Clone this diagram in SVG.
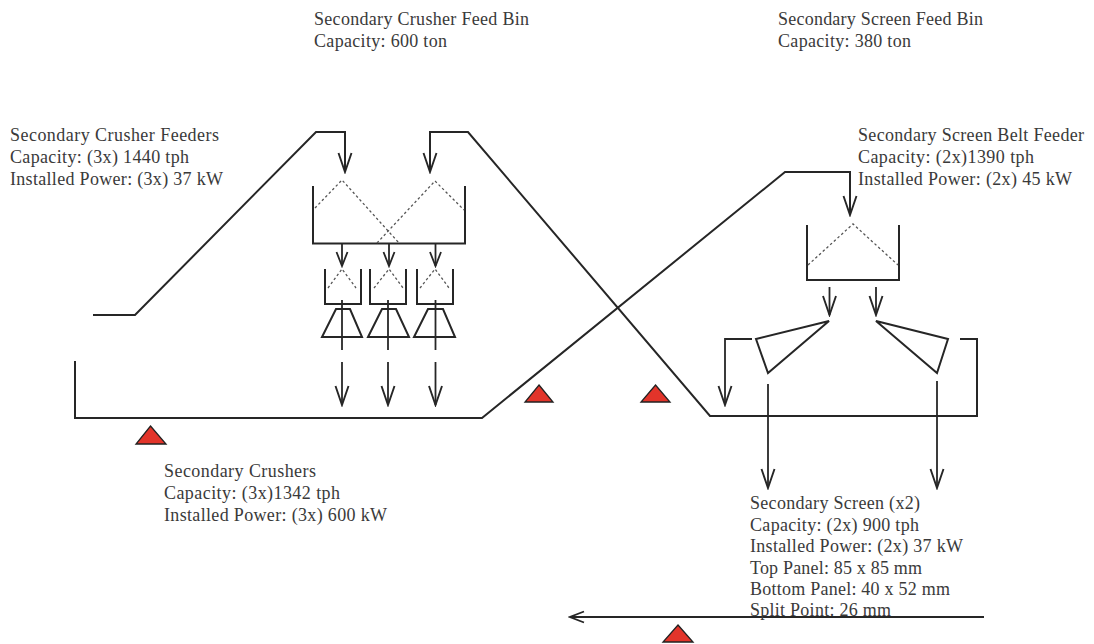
<svg xmlns="http://www.w3.org/2000/svg" width="1094" height="644" viewBox="0 0 1094 644">
<style>
text{font-family:"Liberation Serif",serif;font-size:18px;fill:#3a3a3a}
.l{fill:none;stroke:#262626;stroke-width:2;stroke-linejoin:miter}
.a{fill:none;stroke:#262626;stroke-width:1.8}
.d{fill:none;stroke:#555;stroke-width:1.3;stroke-dasharray:2.5 2.5}
.t{fill:#e2342a;stroke:#222;stroke-width:1.3}
</style>
<defs>
<marker id="ah" viewBox="-20 -8 22 16" refX="0" refY="0" markerWidth="22" markerHeight="16" markerUnits="userSpaceOnUse" orient="auto">
<path d="M-19,-6.500 L0,0 L-19,6.500" fill="none" stroke="#262626" stroke-width="1.9"/>
</marker>
<marker id="as" viewBox="-20 -8 22 16" refX="0" refY="0" markerWidth="22" markerHeight="16" markerUnits="userSpaceOnUse" orient="auto">
<path d="M-14,-5.500 L0,0 L-14,5.500" fill="none" stroke="#262626" stroke-width="1.8"/>
</marker>
</defs>
<rect width="1094" height="644" fill="#fff"/>
<g id="connectors">
<path class="l" d="M93,315 H135 L316,132 H345 V172" marker-end="url(#ah)"/>
<path class="l" d="M960,339 H977 V416 H710 L468,132 H430 V172" marker-end="url(#ah)"/>
<path class="l" d="M75,361 V418 H482 L785,172 H850 V215" marker-end="url(#ah)"/>
<path class="a" d="M342,243 V266" marker-end="url(#as)"/>
<path class="a" d="M389,243 V266" marker-end="url(#as)"/>
<path class="a" d="M435.500,243 V266" marker-end="url(#as)"/>
<path class="a" d="M342,300 V350"/>
<path class="a" d="M388,300 V350"/>
<path class="a" d="M435.500,300 V350"/>
<path class="a" d="M342,362 V405" marker-end="url(#ah)"/>
<path class="a" d="M388,362 V405" marker-end="url(#ah)"/>
<path class="a" d="M435.500,362 V405" marker-end="url(#ah)"/>
<path class="a" d="M829.500,287 V315" marker-end="url(#ah)"/>
<path class="a" d="M876,287 V315" marker-end="url(#ah)"/>
<path class="a" d="M752,339 H725 V405" marker-end="url(#ah)"/>
<path class="a" d="M768,384 V488" marker-end="url(#ah)"/>
<path class="a" d="M937,381 V488" marker-end="url(#ah)"/>
<path class="a" d="M984,617 H570" marker-end="url(#as)"/>
</g>
<g id="crusher-feed-bin">
<path class="l" d="M313,186 V243.500 H465 V186"/>
<path class="d" d="M315,208 L342,180 L399,243"/>
<path class="d" d="M377,243 L435,181 L464,210"/>
</g>
<g id="crusher-1">
<path class="l" d="M325,269 V304 H361 V269"/>
<path class="d" d="M328,288 L342,269 L356,288"/>
<path class="l" d="M336,309 H350 L362,337 H322 Z"/>
</g>
<g id="crusher-2">
<path class="l" d="M370,269 V304 H406 V269"/>
<path class="d" d="M374,288 L389,269 L403,288"/>
<path class="l" d="M382,309 H396 L409,337 H368 Z"/>
</g>
<g id="crusher-3">
<path class="l" d="M417,269 V304 H453 V269"/>
<path class="d" d="M420,288 L435,269 L449,288"/>
<path class="l" d="M428,309 H443 L455,337 H414 Z"/>
</g>
<g id="screen-feed-bin">
<path class="l" d="M807,225 V280 H899 V225"/>
<path class="d" d="M808,265 L853,224 L898,265"/>
</g>
<g id="screen-left"><path class="l" d="M756,339 L829,321 L768,373 Z"/></g>
<g id="screen-right"><path class="l" d="M876,321 L948,339 L937,373 Z"/></g>
<g id="stockpile-markers">
<path class="t" d="M150.500,426 L166,444 H136 Z"/>
<path class="t" d="M539,385 L553,402 H525 Z"/>
<path class="t" d="M655.500,385 L670,402 H641 Z"/>
<path class="t" d="M678,625 L693,642 H663 Z"/>
</g>
<g id="label-crusher-feed-bin">
<text x="314" y="25" textLength="215">Secondary Crusher Feed Bin</text>
<text x="314" y="47" textLength="133">Capacity: 600 ton</text>
</g>
<g id="label-screen-feed-bin">
<text x="778" y="25" textLength="205">Secondary Screen Feed Bin</text>
<text x="778" y="47" textLength="133">Capacity: 380 ton</text>
</g>
<g id="label-crusher-feeders">
<text x="10" y="141" textLength="209">Secondary Crusher Feeders</text>
<text x="10" y="163" textLength="179">Capacity: (3x) 1440 tph</text>
<text x="10" y="185" textLength="213">Installed Power: (3x) 37 kW</text>
</g>
<g id="label-belt-feeder">
<text x="858" y="141" textLength="226">Secondary Screen Belt Feeder</text>
<text x="858" y="163" textLength="176">Capacity: (2x)1390 tph</text>
<text x="858" y="185" textLength="214">Installed Power: (2x) 45 kW</text>
</g>
<g id="label-crushers">
<text x="164" y="477" textLength="152">Secondary Crushers</text>
<text x="164" y="499" textLength="176">Capacity: (3x)1342 tph</text>
<text x="164" y="521" textLength="223">Installed Power: (3x) 600 kW</text>
</g>
<g id="label-screen">
<text x="750" y="509" textLength="170">Secondary Screen (x2)</text>
<text x="750" y="531" textLength="169">Capacity: (2x) 900 tph</text>
<text x="750" y="552" textLength="213">Installed Power: (2x) 37 kW</text>
<text x="750" y="574" textLength="172">Top Panel: 85 x 85 mm</text>
<text x="750" y="595" textLength="200">Bottom Panel: 40 x 52 mm</text>
<text x="750" y="616" textLength="141">Split Point: 26 mm</text>
</g>
</svg>
